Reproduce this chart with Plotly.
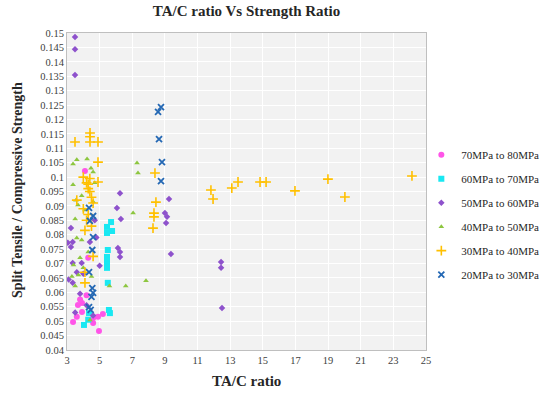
import plotly.graph_objects as go

# 70MPa to 80MPa
x_7080 = [4.1, 4.3, 3.92, 3.67, 3.92, 3.6, 3.37, 4.6, 4.9, 5.2, 4.96, 4.6, 4.2, 3.8]
y_7080 = [0.1021, 0.072, 0.0563, 0.0556, 0.0532, 0.0515, 0.0497, 0.0511, 0.0515, 0.0525, 0.0466, 0.0494, 0.059, 0.0575]
# 60MPa to 70MPa
x_6070 = [5.7, 5.45, 5.76, 5.45, 5.5, 5.45, 5.45, 5.45, 5.45, 5.5, 5.57, 5.63, 4.35, 4.04, 4.3]
y_6070 = [0.0844, 0.0827, 0.0813, 0.0806, 0.0747, 0.0723, 0.0712, 0.0698, 0.0685, 0.0633, 0.0539, 0.0528, 0.0528, 0.0487, 0.0505]
# 50MPa to 60MPa
x_5060 = [3.49, 3.49, 3.49, 6.25, 9.25, 6.06, 6.3, 9.0, 9.13, 9.07, 3.24, 3.35, 3.24, 6.12, 6.25, 6.25, 9.37,
          12.44, 12.44, 12.5, 3.35, 3.9, 5.0, 3.35, 3.1, 3.6, 4.4, 4.7, 3.8, 4.2, 3.5, 4.0, 4.6, 3.05, 4.8]
y_5060 = [0.1486, 0.1444, 0.1354, 0.0944, 0.0924, 0.0893, 0.0855, 0.0875, 0.0862, 0.0841, 0.0823, 0.0775, 0.0757,
          0.0754, 0.074, 0.0723, 0.0733, 0.0705, 0.0685, 0.0546, 0.0702, 0.0702, 0.0692, 0.0633, 0.0645, 0.067,
          0.0775, 0.085, 0.0595, 0.0555, 0.053, 0.0665, 0.052, 0.0772, 0.079]
# 40MPa to 50MPa
x_4050 = [4.23, 3.6, 3.37, 7.29, 7.35, 4.47, 4.6, 3.37, 4.7, 3.55, 3.67, 4.6, 4.1, 7.05, 3.6, 3.9, 7.84, 6.6,
          5.6, 3.5, 4.41, 3.4, 3.8, 4.3, 3.3, 3.7, 4.0, 3.5, 4.5, 3.9]
y_4050 = [0.1063, 0.106, 0.1045, 0.1049, 0.1014, 0.1031, 0.1018, 0.0973, 0.098, 0.092, 0.0903, 0.0914, 0.0886,
          0.0875, 0.0789, 0.0782, 0.064, 0.0622, 0.0622, 0.0622, 0.0504, 0.0695, 0.072, 0.074, 0.0655, 0.066,
          0.0685, 0.0855, 0.0655, 0.0935]
# 30MPa to 40MPa
x_3040 = [3.49, 4.41, 4.41, 4.41, 4.9, 4.9, 8.39, 8.45, 8.33, 8.33, 8.27, 4.9, 3.6, 11.82, 11.95, 13.1, 13.48,
          14.83, 15.2, 16.97, 18.99, 20.03, 24.14, 4.1, 4.1, 4.0, 4.2, 4.3, 4.4, 4.5, 4.6, 4.0, 4.3, 4.2, 4.5,
          4.1, 4.4, 4.3, 4.6]
y_3040 = [0.1122, 0.1153, 0.114, 0.1122, 0.1122, 0.1052, 0.1014, 0.0913, 0.0875, 0.0862, 0.0823, 0.0983, 0.092,
          0.0955, 0.0924, 0.0962, 0.0983, 0.0983, 0.0983, 0.0952, 0.0993, 0.0931, 0.1004, 0.067, 0.0633, 0.1,
          0.098, 0.096, 0.095, 0.093, 0.091, 0.089, 0.087, 0.085, 0.083, 0.0815, 0.0995, 0.0975, 0.0725]
# 20MPa to 30MPa
x_2030 = [8.58, 8.76, 8.64, 8.82, 8.76, 4.35, 4.6, 4.4, 4.6, 4.55, 4.35, 4.55, 4.6, 4.5, 4.35, 4.45]
y_2030 = [0.1226, 0.1243, 0.1132, 0.1052, 0.0986, 0.0893, 0.0865, 0.0848, 0.0792, 0.0747, 0.067, 0.0615,
          0.0598, 0.0584, 0.0549, 0.0539]

FONT = "Liberation Serif"

series = [
    ("70MPa to 80MPa", x_7080, y_7080, dict(symbol="circle", size=6, color="#FF55E8")),
    ("60MPa to 70MPa", x_6070, y_6070, dict(symbol="square", size=6, color="#19E8F2")),
    ("50MPa to 60MPa", x_5060, y_5060, dict(symbol="diamond", size=5, color="#8E52CC")),
    ("40MPa to 50MPa", x_4050, y_4050, dict(symbol="triangle-up", size=5, color="#8DC63F")),
    ("30MPa to 40MPa", x_3040, y_3040, dict(symbol="cross-thin", size=7, color="#FFC000",
                                             line=dict(width=1.6, color="#FFC000"))),
    ("20MPa to 30MPa", x_2030, y_2030, dict(symbol="x-thin", size=6, color="#2468B4",
                                             line=dict(width=1.8, color="#2468B4"))),
]

fig = go.Figure()
for i, (name, xs, ys, mk) in enumerate(series):
    fig.add_trace(go.Scatter(x=xs, y=ys, mode="markers", name=name, marker=mk, legendgroup=str(i)))

fig.update_layout(
    width=550, height=394,
    margin=dict(l=67, r=124, t=33, b=44, autoexpand=False),
    paper_bgcolor="white", plot_bgcolor="#F2F2F2",
    title=dict(text="<b>TA/C ratio Vs Strength Ratio</b>", x=(67 + 426) / 2 / 550, xanchor="center",
               y=1 - 5 / 394, yanchor="top", font=dict(family=FONT, size=15, color="#262626")),
    font=dict(family=FONT, color="#404040"),
    showlegend=True,
    legend=dict(x=0.987, xanchor="left", y=0.662, yanchor="top", tracegroupgap=5,
                font=dict(family=FONT, size=11, color="#262626"), bgcolor="rgba(0,0,0,0)",
                itemwidth=30),
    xaxis=dict(range=[3, 25], tick0=3, dtick=2, showgrid=True, gridcolor="white", gridwidth=1,
               zeroline=False, showline=True, linecolor="#BFBFBF", mirror=True, ticks="",
               automargin=False,
               tickfont=dict(family=FONT, size=10.5, color="#404040")),
    yaxis=dict(range=[0.04, 0.15], tick0=0.04, dtick=0.005, showgrid=True, gridcolor="white", gridwidth=1,
               zeroline=False, showline=True, linecolor="#BFBFBF", mirror=True, ticks="",
               automargin=False,
               tickfont=dict(family=FONT, size=10.5, color="#404040")),
    annotations=[
        dict(text="<b>TA/C ratio</b>", xref="paper", yref="paper", x=0.5, y=-(381 - 350) / 317,
             xanchor="center", yanchor="middle", showarrow=False,
             font=dict(family=FONT, size=15, color="#262626")),
        dict(text="<b>Split Tensile / Compressive Strength</b>", xref="paper", yref="paper",
             x=-(67 - 17) / 359, y=(350 - 190) / 317, xanchor="center", yanchor="middle",
             textangle=-90, showarrow=False, font=dict(family=FONT, size=14, color="#262626")),
    ],
)

fig.write_html("out.html", config={"displayModeBar": False},
               post_script="document.body.style.margin='0px';")
